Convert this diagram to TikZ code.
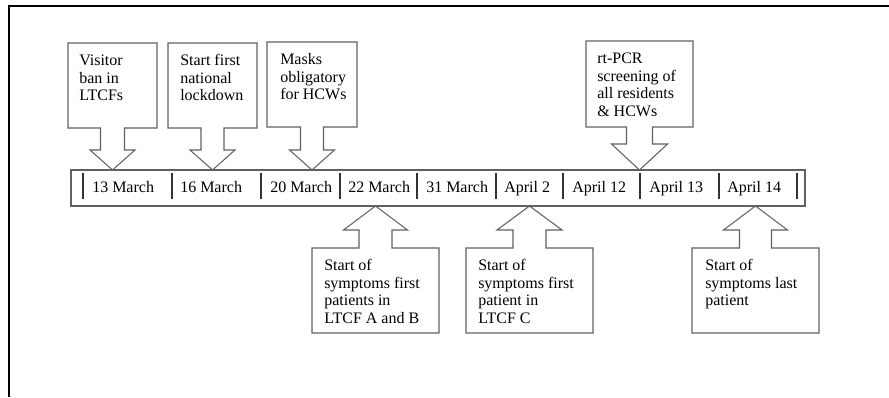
\documentclass[tikz,border=0pt]{standalone}
\usepackage{fontspec}
\setmainfont{Liberation Serif}
\usepackage{tikz}
\usetikzlibrary{calc,positioning}

\tikzset{
  box/.style={inner sep=0pt, outer sep=0pt, anchor=north west},
  note/.style={inner sep=0pt, anchor=north west, align=left, font=\fontsize{12}{13.3}\selectfont},
  date/.style={inner sep=0pt, anchor=base west, font=\fontsize{12}{13.3}\selectfont},
  shapeline/.style={draw=black!62, line width=0.8pt, line join=miter},
  tick/.style={draw=black!80, line width=1pt},
  frame/.style={draw=black, line width=1.2pt},
}
% box, tip, stem half, head half, head height
\newcommand{\calloutdown}[5]{%
  \draw[shapeline] (#1.south west) -- (#1.north west) -- (#1.north east) -- (#1.south east)
    -- ($(#1.south)+(#3,0)$) -- ($(#2)+(#3,-#5)$) -- ($(#2)+(#4,-#5)$) -- (#2)
    -- ($(#2)+(-#4,-#5)$) -- ($(#2)+(-#3,-#5)$) -- ($(#1.south)+(-#3,0)$) -- cycle;}
\newcommand{\calloutup}[5]{%
  \draw[shapeline] (#1.north west) -- (#1.south west) -- (#1.south east) -- (#1.north east)
    -- ($(#1.north)+(#3,0)$) -- ($(#2)+(#3,#5)$) -- ($(#2)+(#4,#5)$) -- (#2)
    -- ($(#2)+(-#4,#5)$) -- ($(#2)+(-#3,#5)$) -- ($(#1.north)+(-#3,0)$) -- cycle;}

\begin{document}
\begin{tikzpicture}[x=0.75pt, y=-0.75pt]
        \useasboundingbox (0,0) rectangle (889,397);
        \draw[frame] (9,397) -- (9,6) -- (889,6);

        % timeline
        \node[box, shapeline, minimum width=550.5pt, minimum height=27pt] (bar) at (71,170) {};
        \foreach \x in {83,172,261,340,417,496,563,640,719,797}
          \draw[tick] (\x,173) -- (\x,199);

        \node[date] (d1) at (92,192) {13 March};
        \node[date] (d2) at (180,192) {16 March};
        \node[date] (d3) at (270,192) {20 March};
        \node[date] (d4) at (348,192) {22 March};
        \node[date] (d5) at (426,192) {31 March};
        \node[date] (d6) at (504,192) {April 2};
        \node[date] (d7) at (572,192) {April 12};
        \node[date] (d8) at (649,192) {April 13};
        \node[date] (d9) at (727,192) {April 14};

        % boxes above
        \node[box, minimum width=66.75pt, minimum height=63.75pt] (b1) at (68,43) {};
        \node[box, minimum width=66.75pt, minimum height=63.75pt] (b2) at (168,43) {};
        \node[box, minimum width=67.5pt, minimum height=63.75pt] (b3) at (267,42) {};
        \node[box, minimum width=80.25pt, minimum height=64.5pt] (b4) at (586,41) {};

        % boxes below
        \node[box, minimum width=95.25pt, minimum height=63.75pt] (b5) at (312,248) {};
        \node[box, minimum width=95.25pt, minimum height=63.75pt] (b6) at (466,248) {};
        \node[box, minimum width=95.25pt, minimum height=63.75pt] (b7) at (692,248) {};

        \coordinate (t1) at (b1.south |- bar.north);
        \coordinate (t2) at (b2.south |- bar.north);
        \coordinate (t3) at (b3.south |- bar.north);
        \coordinate (t4) at (b4.south |- bar.north);
        \coordinate (t5) at (b5.north |- bar.south);
        \coordinate (t6) at (b6.north |- bar.south);
        \coordinate (t7) at (b7.north |- bar.south);

        \calloutdown{b1}{t1}{12}{22.5}{20}
        \calloutdown{b2}{t2}{11.5}{22.5}{20}
        \calloutdown{b3}{t3}{11.5}{22.5}{20}
        \calloutdown{b4}{t4}{13}{28}{26}
        \calloutup{b5}{t5}{16.5}{32}{24}
        \calloutup{b6}{t6}{16.5}{32.5}{24}
        \calloutup{b7}{t7}{16}{32}{24}

        \node[note] (n1) at ($(b1.north west)+(11,9.6)$) {\strut Visitor\\ban in\\LTCFs};
        \node[note] (n2) at ($(b2.north west)+(12,9.6)$) {\strut Start first\\national\\lockdown};
        \node[note] (n3) at ($(b3.north west)+(13,9.6)$) {\strut Masks\\obligatory\\for HCWs};
        \node[note] (n4) at ($(b4.north west)+(11,9.6)$) {\strut rt-PCR\\screening of\\all residents\\\& HCWs};
        \node[note] (n5) at ($(b5.north west)+(12,9.6)$) {\strut Start of\\symptoms first\\patients in\\LTCF A and B};
        \node[note] (n6) at ($(b6.north west)+(12,9.6)$) {\strut Start of\\symptoms first\\patient in\\LTCF C};
        \node[note] (n7) at ($(b7.north west)+(13,9.6)$) {\strut Start of\\symptoms last\\patient};
\end{tikzpicture}
\end{document}
